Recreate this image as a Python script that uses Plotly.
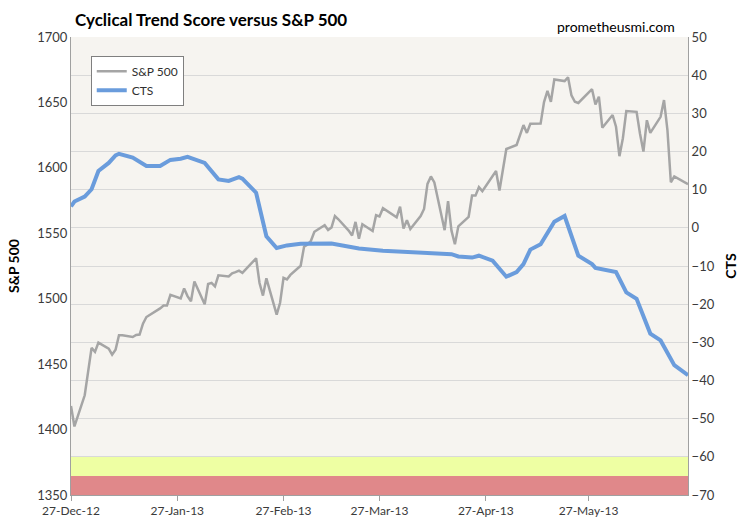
import plotly.graph_objects as go

# ---------------- data ----------------
spx_dates = [
    "2012-12-27", "2012-12-28", "2012-12-31", "2013-01-02", "2013-01-03", "2013-01-04",
    "2013-01-07", "2013-01-08", "2013-01-09", "2013-01-10", "2013-01-11", "2013-01-14",
    "2013-01-15", "2013-01-16", "2013-01-17", "2013-01-18", "2013-01-22", "2013-01-23",
    "2013-01-24", "2013-01-25", "2013-01-28", "2013-01-29", "2013-01-30", "2013-01-31",
    "2013-02-01", "2013-02-04", "2013-02-05", "2013-02-06", "2013-02-07", "2013-02-08",
    "2013-02-11", "2013-02-12", "2013-02-13", "2013-02-14", "2013-02-15", "2013-02-19",
    "2013-02-20", "2013-02-21", "2013-02-22", "2013-02-25", "2013-02-26", "2013-02-27",
    "2013-02-28", "2013-03-01", "2013-03-04", "2013-03-05", "2013-03-06", "2013-03-07",
    "2013-03-08", "2013-03-11", "2013-03-12", "2013-03-13", "2013-03-14", "2013-03-15",
    "2013-03-18", "2013-03-19", "2013-03-20", "2013-03-21", "2013-03-22", "2013-03-25",
    "2013-03-26", "2013-03-27", "2013-03-28", "2013-04-01", "2013-04-02", "2013-04-03",
    "2013-04-04", "2013-04-05", "2013-04-08", "2013-04-09", "2013-04-10", "2013-04-11",
    "2013-04-12", "2013-04-15", "2013-04-16", "2013-04-17", "2013-04-18", "2013-04-19",
    "2013-04-22", "2013-04-23", "2013-04-24", "2013-04-25", "2013-04-26", "2013-04-29",
    "2013-04-30", "2013-05-01", "2013-05-02", "2013-05-03", "2013-05-06", "2013-05-07",
    "2013-05-08", "2013-05-09", "2013-05-10", "2013-05-13", "2013-05-14", "2013-05-15",
    "2013-05-16", "2013-05-17", "2013-05-20", "2013-05-21", "2013-05-22", "2013-05-23",
    "2013-05-24", "2013-05-28", "2013-05-29", "2013-05-30", "2013-05-31", "2013-06-03",
    "2013-06-04", "2013-06-05", "2013-06-06", "2013-06-07", "2013-06-10", "2013-06-11",
    "2013-06-12", "2013-06-13", "2013-06-14", "2013-06-17", "2013-06-18", "2013-06-19",
    "2013-06-20", "2013-06-21", "2013-06-25",
]
spx_values = [
    1418.1, 1402.4, 1426.2, 1462.4, 1459.4, 1466.5,
    1461.9, 1457.2, 1461.0, 1472.1, 1472.1, 1470.7,
    1472.3, 1472.6, 1480.9, 1486.0, 1492.6, 1494.8,
    1494.8, 1503.0, 1500.2, 1507.8, 1502.0, 1498.1,
    1513.2, 1495.7, 1511.3, 1512.1, 1509.4, 1517.9,
    1517.0, 1519.4, 1520.3, 1521.4, 1519.8, 1530.9,
    1512.0, 1502.4, 1515.6, 1487.9, 1496.9, 1516.0,
    1514.7, 1518.2, 1525.2, 1539.8, 1541.5, 1544.3,
    1551.2, 1556.2, 1552.5, 1554.5, 1563.2, 1560.7,
    1552.1, 1548.3, 1558.7, 1545.8, 1556.9, 1551.7,
    1563.8, 1562.9, 1569.2, 1562.2, 1570.3, 1553.7,
    1560.0, 1553.3, 1563.1, 1568.6, 1587.7, 1593.4,
    1588.9, 1552.4, 1574.6, 1552.0, 1541.6, 1555.3,
    1562.5, 1578.8, 1578.8, 1585.2, 1582.2, 1593.6,
    1597.6, 1582.7, 1597.6, 1614.4, 1617.5, 1626.0,
    1632.7, 1626.7, 1633.7, 1633.8, 1650.3, 1658.8,
    1650.5, 1667.5, 1666.3, 1669.2, 1655.4, 1650.5,
    1649.6, 1660.1, 1648.4, 1654.4, 1630.7, 1640.4,
    1631.4, 1608.9, 1622.6, 1643.4, 1642.8, 1626.1,
    1612.5, 1636.4, 1626.7, 1639.0, 1651.8, 1628.9,
    1589.0, 1593.5, 1587.5,
]

cts_dates = [
    "2012-12-27", "2012-12-28", "2012-12-31", "2013-01-02", "2013-01-04", "2013-01-07",
    "2013-01-09", "2013-01-10", "2013-01-14", "2013-01-18", "2013-01-22", "2013-01-25",
    "2013-01-28", "2013-01-30", "2013-02-04", "2013-02-08", "2013-02-11", "2013-02-14",
    "2013-02-15", "2013-02-19", "2013-02-22", "2013-02-25", "2013-02-28", "2013-03-04",
    "2013-03-13", "2013-03-17", "2013-03-21", "2013-03-28", "2013-04-03", "2013-04-11",
    "2013-04-17", "2013-04-19", "2013-04-23", "2013-04-25", "2013-04-29", "2013-05-03",
    "2013-05-06", "2013-05-08", "2013-05-10", "2013-05-13", "2013-05-17", "2013-05-20",
    "2013-05-24", "2013-05-28", "2013-05-29", "2013-06-04", "2013-06-07", "2013-06-10",
    "2013-06-14", "2013-06-17", "2013-06-21", "2013-06-25",
]
cts_values = [
    5.6, 6.9, 8.2, 10.1, 14.9, 17.0,
    19.0, 19.4, 18.4, 16.2, 16.2, 17.8,
    18.1, 18.6, 17.0, 12.7, 12.3, 13.3,
    12.9, 9.2, -2.2, -5.3, -4.6, -4.2,
    -4.1, -4.8, -5.4, -6.0, -6.3, -6.6,
    -6.9, -7.5, -7.8, -7.3, -8.6, -12.8,
    -11.6, -9.5, -5.7, -4.3, 1.6, 3.1,
    -7.3, -9.5, -10.5, -11.6, -16.9, -18.6,
    -27.7, -29.5, -36.0, -38.6,
]

x_tick_dates = ["2012-12-27", "2013-01-27", "2013-02-27", "2013-03-27", "2013-04-27", "2013-05-27"]
x_range = ["2012-12-27", "2013-06-25"]
spx_range = [1350, 1700]
cts_range = [-70, 50]
yellow_band = [-65, -60]
red_band = [-70, -65]

title_text = "Cyclical Trend Score versus S&P 500"
source_text = "prometheusmi.com"

FONT = "Lato"
TICK_COLOR = "#3A3A3A"

fig = go.Figure()
fig.add_trace(go.Scatter(
    x=spx_dates, y=spx_values, name="S&P 500", mode="lines",
    line=dict(color="#A5A5A5", width=2.5), yaxis="y",
))
fig.add_trace(go.Scatter(
    x=cts_dates, y=cts_values, name="CTS", mode="lines",
    line=dict(color="#6A9CDC", width=4), yaxis="y2",
))

for band, col in ((yellow_band, "#EEFFA3"), (red_band, "#E0888A")):
    fig.add_shape(type="rect", xref="paper", x0=0, x1=1, yref="y2",
                  y0=band[0], y1=band[1], fillcolor=col, line_width=0, layer="below")

fig.update_layout(
    width=750, height=530,
    margin=dict(l=71, r=62, t=37, b=33),
    paper_bgcolor="white", plot_bgcolor="#F6F4F0",
    font=dict(family=FONT, size=12, color=TICK_COLOR),
    title=dict(text=f"<b>{title_text}</b>", x=0.1, xanchor="left",
               y=0.962, yanchor="middle", yref="container",
               font=dict(family=FONT, size=17, color="black")),
    showlegend=True,
    legend=dict(x=0.032, y=0.959, xanchor="left", yanchor="top",
                bgcolor="white", bordercolor="#7F7F7F", borderwidth=1,
                font=dict(family=FONT, size=12, color="#303030"),
                itemwidth=30, tracegroupgap=0),
    xaxis=dict(type="date", range=x_range, tickvals=x_tick_dates, tickformat="%d-%b-%y",
               showgrid=False, showline=True, linecolor="#A0A0A0", linewidth=1,
               ticks="outside", ticklen=5, tickcolor="#A0A0A0",
               tickfont=dict(family=FONT, size=12, color=TICK_COLOR), zeroline=False),
    yaxis=dict(range=spx_range, dtick=50, showgrid=False, showline=True,
               linecolor="#A0A0A0", linewidth=1, zeroline=False, ticks="",
               title=dict(text="<b>S&P 500</b>", standoff=14,
                          font=dict(family=FONT, size=14, color="black")),
               tickfont=dict(family=FONT, size=13, color=TICK_COLOR)),
    yaxis2=dict(range=cts_range, dtick=10, overlaying="y", side="right",
                showgrid=True, gridcolor="#D9D9D9", gridwidth=1,
                showline=True, linecolor="#A0A0A0", linewidth=1, zeroline=False, ticks="",
                title=dict(text="<b>CTS</b>", standoff=12,
                           font=dict(family=FONT, size=14, color="black")),
                tickfont=dict(family=FONT, size=13, color=TICK_COLOR)),
    annotations=[dict(text=source_text, xref="paper", yref="paper", x=0.982, y=1.024,
                      xanchor="right", yanchor="middle", showarrow=False,
                      font=dict(family=FONT, size=14, color="black"))],
)

fig.write_html("out.html", config={"displayModeBar": False},
               post_script="document.body.style.margin='0px';document.body.style.overflow='hidden';")
